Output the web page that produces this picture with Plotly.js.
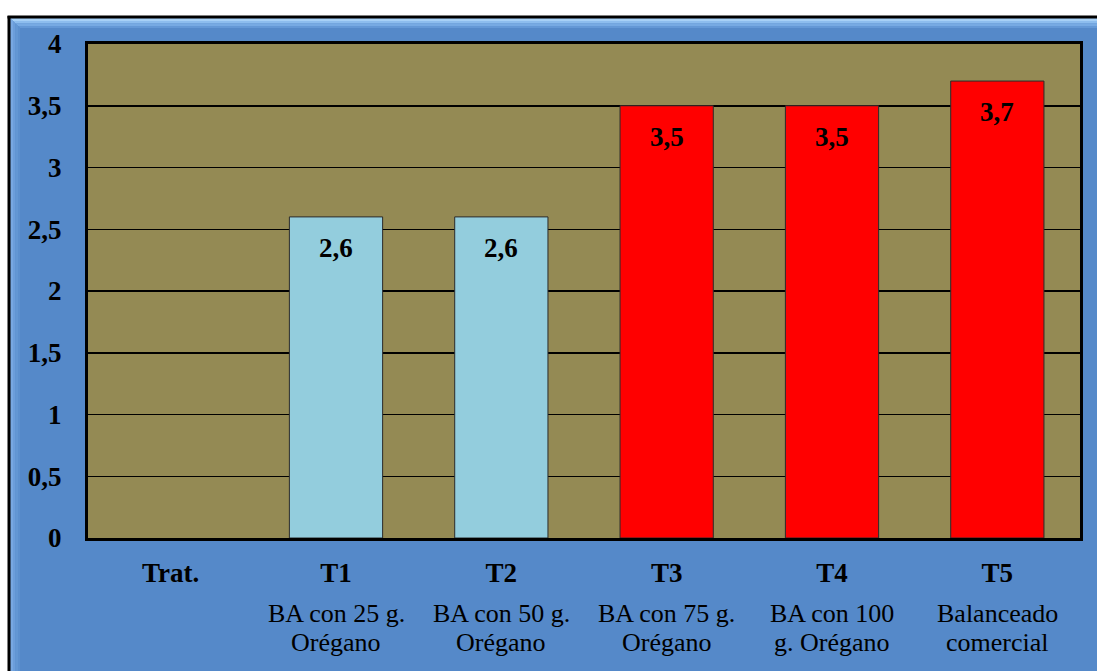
<!DOCTYPE html>
<html>
<head>
<meta charset="utf-8">
<script src="https://cdn.plot.ly/plotly-3.0.1.min.js"></script>
<style>
  html, body { margin: 0; padding: 0; background: #ffffff; }
  #chart { width: 1097px; height: 671px; }
</style>
</head>
<body>
<div id="chart"></div>
<script>
// Treatments and their scores
const categories = ['Trat.', 'T1', 'T2', 'T3', 'T4', 'T5'];
const tickLabels = ['Trat.', 'T1', 'T2', 'T3', 'T4', 'T5'];
const descriptions = [
  [],
  ['BA con 25 g.', 'Orégano'],
  ['BA con 50 g.', 'Orégano'],
  ['BA con 75 g.', 'Orégano'],
  ['BA con 100', 'g. Orégano'],
  ['Balanceado', 'comercial']
];
const values = [null, 2.6, 2.6, 3.5, 3.5, 3.7];
const barColors = ['#93CDDD', '#93CDDD', '#93CDDD', '#FF0000', '#FF0000', '#FF0000'];

const W = 1097, H = 671;
const M = { l: 88, r: 17, t: 44, b: 133 };
const PW = W - M.l - M.r, PH = H - M.t - M.b;
// pixel -> paper fraction helpers for the frame decoration
const fx = px => (px - M.l) / PW;
const fy = py => (H - M.b - py) / PH;

const FONT = 'Liberation Serif, DejaVu Serif, Noto Serif, Times New Roman, serif';
const BLUE = '#5589C9';

const trace = {
  type: 'bar',
  x: categories,
  y: values,
  marker: { color: barColors, line: { color: '#2b2b2b', width: 1 } },
  hoverinfo: 'x+y',
  showlegend: false
};

// value labels inside the top of each bar
const annotations = [];
categories.forEach((c, i) => {
  if (values[i] == null) return;
  annotations.push({
    x: c, y: values[i], xref: 'x', yref: 'y',
    text: '<b>' + values[i].toFixed(1).replace('.', ',') + '</b>',
    showarrow: false, yanchor: 'middle', yshift: -31,
    font: { family: FONT, size: 27, color: '#000000' }
  });
});
// treatment descriptions under the tick labels
const lineY = [613, 642];
descriptions.forEach((lines, i) => {
  lines.forEach((t, k) => {
    annotations.push({
      x: categories[i], xref: 'x', y: fy(lineY[k]), yref: 'paper',
      text: t, showarrow: false, yanchor: 'middle',
      font: { family: FONT, size: 26, color: '#000000' }
    });
  });
});

// outer frame: white page edge, black border and bevelled inner edge
const shapes = [
  { type: 'rect', xref: 'paper', yref: 'paper', x0: fx(0), x1: fx(W), y0: fy(0), y1: fy(16), fillcolor: '#ffffff', line: { width: 0 }, layer: 'below' },
  { type: 'rect', xref: 'paper', yref: 'paper', x0: fx(0), x1: fx(8), y0: fy(0), y1: fy(H), fillcolor: '#ffffff', line: { width: 0 }, layer: 'below' }
];
const bevelTop = ['#A7D0F6', '#8DBDEE', '#77AAE3', '#6498D6'];
const bevelLeft = ['#78A8E2', '#6C9EDB', '#6397D4', '#5C90CF'];
const steps = [0, 3, 5.5, 8, 10];
const ox = 10, oy = 18;
for (let i = 0; i < 4; i++) {
  const a = steps[i], b = steps[i + 1];
  shapes.push({
    type: 'path', xref: 'paper', yref: 'paper', layer: 'below',
    path: `M${fx(ox + a)},${fy(oy + a)} L${fx(W + 5)},${fy(oy + a)} L${fx(W + 5)},${fy(oy + b)} L${fx(ox + b)},${fy(oy + b)} Z`,
    fillcolor: bevelTop[i], line: { width: 0 }
  });
  shapes.push({
    type: 'path', xref: 'paper', yref: 'paper', layer: 'below',
    path: `M${fx(ox + a)},${fy(oy + a)} L${fx(ox + b)},${fy(oy + b)} L${fx(ox + b)},${fy(H + 5)} L${fx(ox + a)},${fy(H + 5)} Z`,
    fillcolor: bevelLeft[i], line: { width: 0 }
  });
}
shapes.push(
  { type: 'line', xref: 'paper', yref: 'paper', x0: fx(7.5), x1: fx(W + 5), y0: fy(17), y1: fy(17), line: { color: '#000000', width: 3 }, layer: 'below' },
  { type: 'line', xref: 'paper', yref: 'paper', x0: fx(9), x1: fx(9), y0: fy(16), y1: fy(H + 5), line: { color: '#000000', width: 3 }, layer: 'below' }
);

const layout = {
  width: W, height: H,
  margin: M,
  separators: ',.',
  paper_bgcolor: BLUE,
  plot_bgcolor: '#948A54',
  bargap: 0.436,
  font: { family: FONT, color: '#000000' },
  xaxis: {
    type: 'category',
    tickvals: categories, ticktext: tickLabels,
    tickfont: { family: FONT, size: 27, weight: 'bold', color: '#000000' },
    ticks: '', ticklabelstandoff: 9,
    showgrid: false, zeroline: false,
    showline: true, linecolor: '#000000', linewidth: 3, mirror: true,
    fixedrange: true
  },
  yaxis: {
    range: [0, 4], dtick: 0.5, tick0: 0,
    tickfont: { family: FONT, size: 27, weight: 'bold', color: '#000000' },
    ticks: '', ticklabelstandoff: 18,
    showgrid: true, gridcolor: '#000000', gridwidth: 1.5,
    zeroline: false,
    showline: true, linecolor: '#000000', linewidth: 3, mirror: true,
    fixedrange: true
  },
  shapes: shapes,
  annotations: annotations
};

Plotly.newPlot('chart', [trace], layout, { displayModeBar: false, staticPlot: true });
</script>
</body>
</html>
